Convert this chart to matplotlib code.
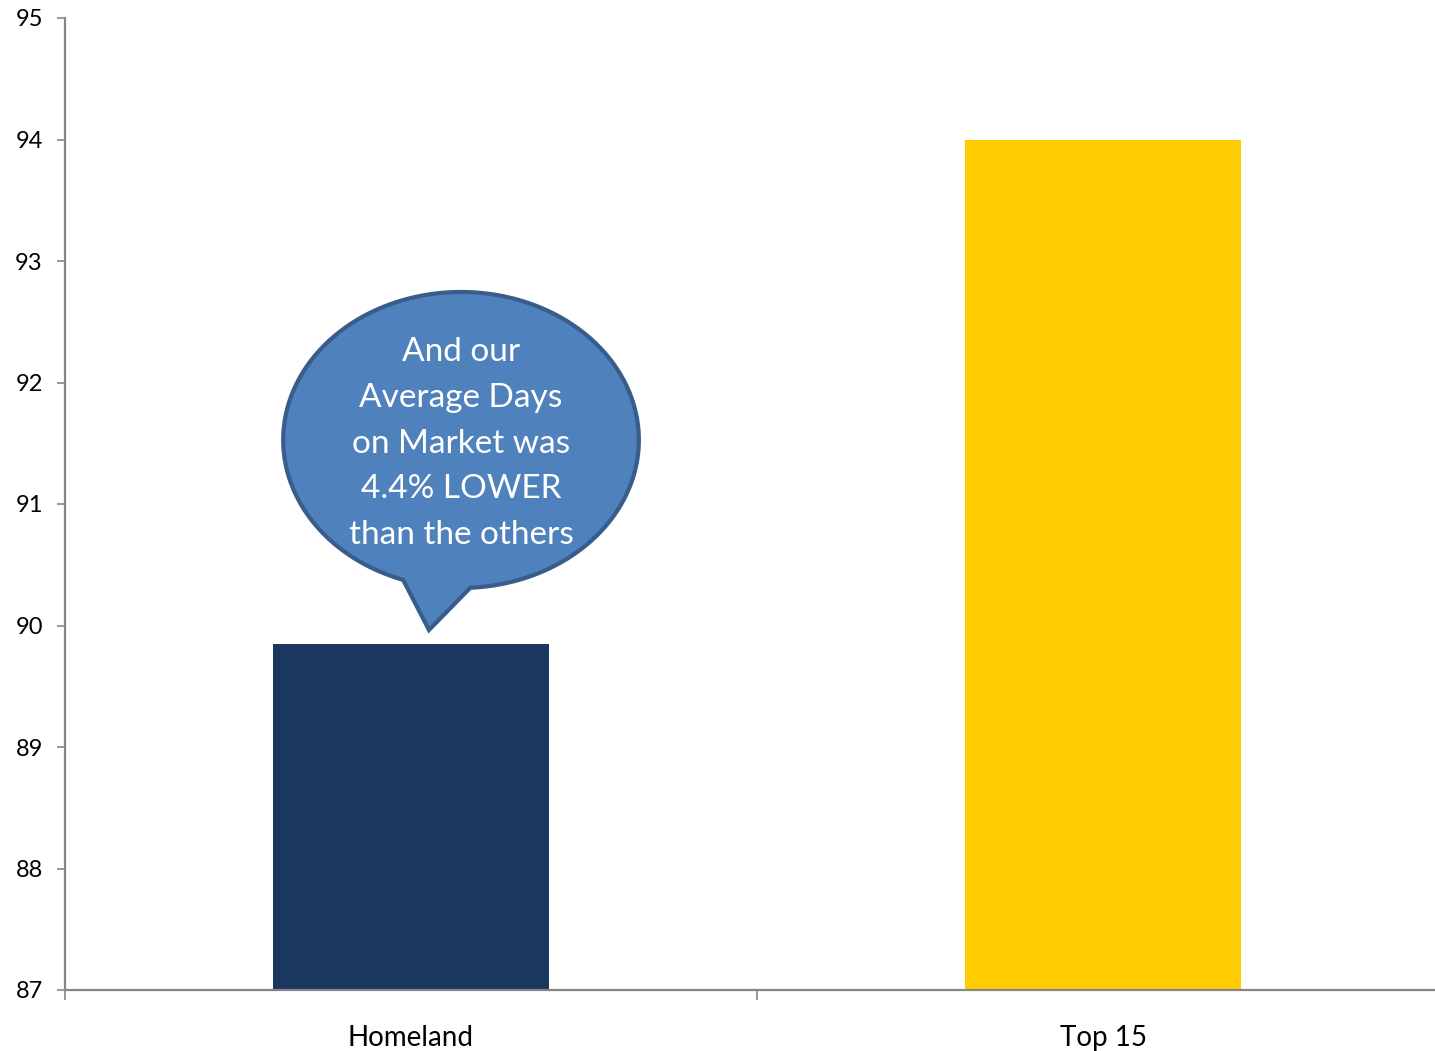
import numpy as np
import matplotlib
matplotlib.use('Agg')
import matplotlib.pyplot as plt
from matplotlib.path import Path
from matplotlib.patches import PathPatch

categories = ['Homeland', 'Top 15']
values = [89.85, 94.0]
colors = ['#1A375F', '#FFCC00']
yticks = [87, 88, 89, 90, 91, 92, 93, 94, 95]
bubble_text = 'And our\nAverage Days\non Market was\n4.4% LOWER\nthan the others'

plt.rcParams['font.family'] = ['Lato', 'DejaVu Sans']

fig = plt.figure(figsize=(14.35, 10.51), dpi=100)
ax = fig.add_axes([65/1435, 61/1051, 1384/1435, 972/1051])

x = np.arange(len(categories))
ax.bar(x, values, width=0.4, color=colors, bottom=0)
ax.set_ylim(87, 95)
ax.set_xlim(-0.5, 1.5)
ax.set_yticks(yticks)
ax.set_yticklabels([str(v) for v in yticks], fontsize=17)
ax.set_xticks([-0.5, 0.5])
ax.set_xticklabels(['', ''])
ax.set_xticks(x, minor=True)
ax.set_xticklabels(categories, minor=True, fontsize=20)
ax.tick_params(axis='x', which='minor', length=0, pad=25)
ax.tick_params(axis='x', which='major', length=7, width=1.2, color='#868686')
ax.tick_params(axis='y', length=6, width=1.2, color='#868686', pad=10)
for s in ['top', 'right']:
    ax.spines[s].set_visible(False)
for s in ['left', 'bottom']:
    ax.spines[s].set_color('#868686')
    ax.spines[s].set_linewidth(1.6)

# speech bubble
cx, cy, a, b = 0.0723, 91.527, 0.257, 1.218
th = np.radians(np.linspace(273, 611, 200))
pts = list(zip(cx + a*np.cos(th), cy + b*np.sin(th)))
pts.append((0.026, 89.963))
pts.append(pts[0])
codes = [Path.MOVETO] + [Path.LINETO]*(len(pts)-2) + [Path.CLOSEPOLY]
bubble = PathPatch(Path(pts, codes), facecolor='#4F81BD', edgecolor='#385D8A',
                   linewidth=3, joinstyle='miter', clip_on=False, zorder=3)
ax.add_patch(bubble)
ax.text(cx, cy - 0.03, bubble_text, ha='center', va='center', color='white',
        fontsize=24, linespacing=1.65, zorder=4)

fig.savefig('out.png', dpi=100)
